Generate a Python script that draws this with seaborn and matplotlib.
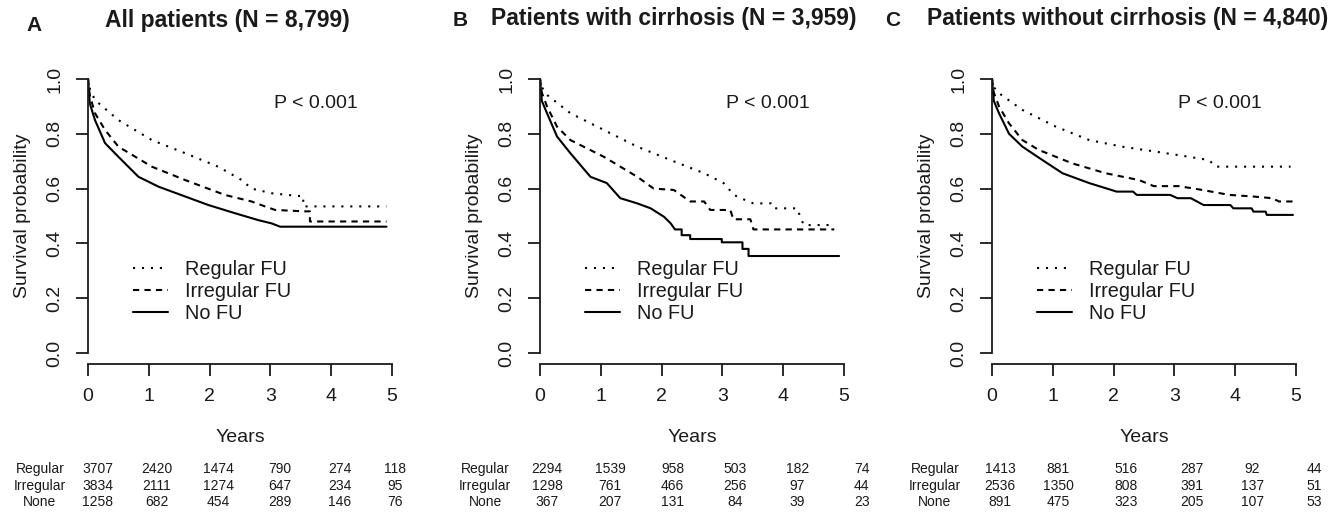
import numpy as np
import pandas as pd
import matplotlib
matplotlib.use("Agg")
import matplotlib.pyplot as plt
import matplotlib.transforms as mtransforms
import seaborn as sns

# Kaplan-Meier curves (years, survival probability)
groups = ["Regular FU", "Irregular FU", "No FU"]
years = [0, 1, 2, 3, 4, 5]
row_names = ["Regular", "Irregular", "None"]

# Panel A - all patients
a_reg_t = [0, 0.03, 0.115, 0.5, 1.05, 1.6, 2.14, 2.53, 2.69, 3.02, 3.46, 3.54, 3.54, 4.91]
a_reg_s = [1.0, 0.965, 0.923, 0.85, 0.777, 0.729, 0.68, 0.631, 0.60, 0.583, 0.573, 0.573, 0.535, 0.535]
a_irr_t = [0, 0.03, 0.115, 0.28, 0.5, 1.05, 1.6, 2.25, 2.69, 2.91, 3.08, 3.57, 3.65, 3.65, 4.91]
a_irr_s = [1.0, 0.94, 0.875, 0.814, 0.753, 0.68, 0.631, 0.577, 0.553, 0.535, 0.522, 0.517, 0.517, 0.48, 0.48]
a_no_t = [0, 0.03, 0.115, 0.28, 0.5, 0.83, 1.16, 1.6, 1.98, 2.42, 2.8, 3.02, 3.16, 4.91]
a_no_s = [1.0, 0.91, 0.85, 0.766, 0.716, 0.643, 0.607, 0.571, 0.54, 0.51, 0.485, 0.473, 0.461, 0.461]

# Panel B - with cirrhosis
b_reg_t = [0, 0.03, 0.115, 0.5, 1.05, 1.6, 2.15, 2.7, 3.02, 3.19, 3.3, 3.51, 3.8, 3.84, 4.23, 4.29, 4.34, 4.86]
b_reg_s = [1.0, 0.97, 0.942, 0.875, 0.814, 0.753, 0.704, 0.656, 0.62, 0.577, 0.565, 0.546, 0.546, 0.528, 0.528, 0.491, 0.467, 0.467]
b_irr_t = [0, 0.03, 0.115, 0.28, 0.5, 1.05, 1.6, 1.87, 2.2, 2.47, 2.7, 2.8, 3.13, 3.18, 3.46, 3.51, 4.84]
b_irr_s = [1.0, 0.95, 0.9, 0.826, 0.777, 0.716, 0.643, 0.60, 0.595, 0.553, 0.553, 0.522, 0.522, 0.488, 0.488, 0.451, 0.451]
b_no_t = [0, 0.03, 0.115, 0.28, 0.5, 0.83, 1.1, 1.32, 1.6, 1.82, 2.04, 2.15, 2.22, 2.33, 2.33, 2.47, 2.47,
          2.99, 2.99, 3.33, 3.33, 3.43, 3.43, 4.92]
b_no_s = [1.0, 0.92, 0.875, 0.79, 0.729, 0.643, 0.62, 0.565, 0.546, 0.528, 0.497, 0.473, 0.451, 0.451, 0.43, 0.43, 0.416,
          0.416, 0.404, 0.404, 0.38, 0.38, 0.354, 0.354]

# Panel C - without cirrhosis
c_reg_t = [0, 0.03, 0.115, 0.5, 1.05, 1.6, 2.14, 2.69, 3.24, 3.57, 3.68, 4.91]
c_reg_s = [1.0, 0.97, 0.948, 0.887, 0.826, 0.777, 0.753, 0.735, 0.716, 0.704, 0.68, 0.68]
c_irr_t = [0, 0.03, 0.115, 0.28, 0.5, 0.77, 1.32, 1.87, 2.42, 2.66, 3.07, 3.46, 3.9, 4.3, 4.61, 4.72, 4.95]
c_irr_s = [1.0, 0.95, 0.9, 0.838, 0.777, 0.741, 0.692, 0.656, 0.631, 0.609, 0.609, 0.595, 0.577, 0.571, 0.565, 0.553, 0.553]
c_no_t = [0, 0.03, 0.115, 0.28, 0.5, 0.83, 1.16, 1.6, 2.05, 2.32, 2.38, 2.93, 3.05, 3.27, 3.48, 3.92, 3.97,
          4.27, 4.3, 4.5, 4.52, 4.95]
c_no_s = [1.0, 0.92, 0.875, 0.80, 0.753, 0.704, 0.656, 0.62, 0.589, 0.589, 0.577, 0.577, 0.565, 0.565, 0.54, 0.54, 0.528,
          0.528, 0.516, 0.516, 0.504, 0.504]

# numbers at risk
a_risk = [[3707, 2420, 1474, 790, 274, 118],
          [3834, 2111, 1274, 647, 234, 95],
          [1258, 682, 454, 289, 146, 76]]
b_risk = [[2294, 1539, 958, 503, 182, 74],
          [1298, 761, 466, 256, 97, 44],
          [367, 207, 131, 84, 39, 23]]
c_risk = [[1413, 881, 516, 287, 92, 44],
          [2536, 1350, 808, 391, 137, 51],
          [891, 475, 323, 205, 107, 53]]

titles = ["All patients (N = 8,799)", "Patients with cirrhosis (N = 3,959)",
          "Patients without cirrhosis (N = 4,840)"]
letters = ["A", "B", "C"]

sns.set_style("ticks")
plt.rcParams["font.family"] = ["Liberation Sans", "DejaVu Sans"]
ink = "#1a1a1a"

W, H = 1337, 517
fig = plt.figure(figsize=(W / 100, H / 100), dpi=100)

curves = [
    [(a_reg_t, a_reg_s), (a_irr_t, a_irr_s), (a_no_t, a_no_s)],
    [(b_reg_t, b_reg_s), (b_irr_t, b_irr_s), (b_no_t, b_no_s)],
    [(c_reg_t, c_reg_s), (c_irr_t, c_irr_s), (c_no_t, c_no_s)],
]
risks = [a_risk, b_risk, c_risk]
styles = [(0, (1, 3.3)), (0, (3, 2.5)), "-"]

# layout (pixels)
ax_left = [88, 540, 992]
title_x = [227, 674, 1128]
title_base = [27, 25, 25]
letter_x = [34, 460, 893]
letter_base = [31, 26, 26]
risk_label_x = [-0.79, -0.9, -0.94]
risk_col_x = [[0.16, 1.13, 2.14, 3.16, 4.14, 5.05],
              [0.12, 1.15, 2.18, 3.21, 4.23, 5.29],
              [0.13, 1.09, 2.21, 3.29, 4.28, 5.30]]
risk_row_y = [469, 486, 502]
fs = 14

for i in range(3):
    ax = fig.add_axes([ax_left[i] / W, 1 - 364 / H, 304 / W, 296 / H])
    for g, (t, s), ls in zip(groups, curves[i], styles):
        df = pd.DataFrame({"t": t, "s": s})
        sns.lineplot(data=df, x="t", y="s", estimator=None, sort=False, color="black",
                     linewidth=1.5, linestyle=ls, label=g, ax=ax)

    ax.set_xlim(0, 5)
    ax.set_ylim(-0.04, 1.04)
    sns.despine(ax=ax)
    ax.spines["left"].set_bounds(0, 1)
    ax.spines["bottom"].set_bounds(0, 5)
    for sp in ["left", "bottom"]:
        ax.spines[sp].set_linewidth(1.3)
        ax.spines[sp].set_color(ink)

    ax.set_xticks(years)
    ax.set_xticklabels([str(y) for y in years])
    yt = [0, 0.2, 0.4, 0.6, 0.8, 1.0]
    ax.set_yticks(yt)
    ax.set_yticklabels([f"{v:.1f}" for v in yt], rotation=90, va="center")
    ax.tick_params(length=8.6, width=1.3, pad=9, labelsize=fs, colors=ink)

    ax.set_xlabel("Years", fontsize=fs, color=ink, labelpad=17)
    ax.set_ylabel("Survival probability", fontsize=fs, color=ink, labelpad=11)

    ax.text(3.75, 0.912, "P < 0.001", ha="center", va="center", fontsize=fs, color=ink)

    ax.legend(loc="upper left", bbox_to_anchor=(0.148, 0.35), frameon=False,
              borderpad=0, borderaxespad=0, handlelength=1.75, handletextpad=0.85,
              labelspacing=0.15, fontsize=14.3, labelcolor=ink)

    # number at risk table
    tr = mtransforms.blended_transform_factory(ax.transData, fig.transFigure)
    for r in range(3):
        yy = 1 - risk_row_y[r] / H
        ax.text(risk_label_x[i], yy, row_names[r], transform=tr, ha="center", va="center",
                fontsize=10, color=ink, clip_on=False)
        for c in range(6):
            ax.text(risk_col_x[i][c], yy, str(risks[i][r][c]), transform=tr, ha="center",
                    va="center", fontsize=10, color=ink, clip_on=False)

    fig.text(title_x[i] / W, 1 - title_base[i] / H, titles[i], ha="center", va="baseline",
             fontsize=16.5, fontweight="bold", color=ink)
    fig.text(letter_x[i] / W, 1 - letter_base[i] / H, letters[i], ha="center", va="baseline",
             fontsize=15, fontweight="bold", color=ink)

fig.savefig("out.png", dpi=100)
